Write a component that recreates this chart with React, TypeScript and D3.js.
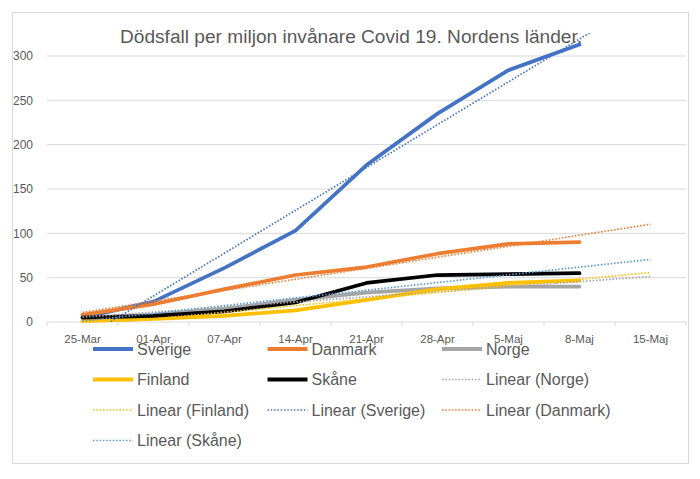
import * as d3 from "d3";

const width = 700;
const height = 479;

const dates = ["25-Mar", "01-Apr", "07-Apr", "14-Apr", "21-Apr", "28-Apr", "5-Maj", "8-Maj", "15-Maj"];
const yTicks = [0, 50, 100, 150, 200, 250, 300];

// deaths per million, one value per date up to 8-Maj
const sverige = [5, 23, 61, 103, 177, 235, 284, 313];
const danmark = [8, 20, 37, 53, 62, 77, 88, 90];
const norge = [5, 8, 15, 25, 33, 38, 40, 40];
const finland = [1, 3.5, 7, 13, 25, 37, 44, 47];
const skane = [5, 7, 12, 22, 44, 53, 54, 55];

const series = [
  { name: "Sverige", values: sverige, color: "#4472C4", trend: "#4472C4" },
  { name: "Danmark", values: danmark, color: "#ED7D31", trend: "#ED7D31" },
  { name: "Norge", values: norge, color: "#A5A5A5", trend: "#A5A5A5" },
  { name: "Finland", values: finland, color: "#FFC000", trend: "#FFC000" },
  { name: "Skåne", values: skane, color: "#000000", trend: "#5B9BD5" },
];
const trendOrder = ["Norge", "Finland", "Sverige", "Danmark", "Skåne"];

const textColor = "#595959";
const gridColor = "#D9D9D9";
const font = "'Liberation Sans', Arial, sans-serif";

const plot = { left: 47, right: 686, top: 33, bottom: 322 };

const x = d3.scaleBand<string>().domain(dates).range([plot.left, plot.right]);
const y = d3.scaleLinear().domain([0, 300]).range([plot.bottom, 56]);
const cx = (i: number) => x(dates[i])! + x.bandwidth() / 2;

// least squares fit, projected one period forward
function linearTrend(values: number[]): [number, number][] {
  const n = values.length;
  const mx = d3.mean(d3.range(n))!;
  const my = d3.mean(values)!;
  const sxy = d3.sum(values, (v, i) => (i - mx) * (v - my));
  const sxx = d3.sum(d3.range(n), (i) => (i - mx) ** 2);
  const slope = sxy / sxx;
  return [0, n].map((i) => [cx(i), y(my + slope * (i - mx))] as [number, number]);
}

const line = d3.line<number>().x((_, i) => cx(i)).y((d) => y(d));

const legendItems = [
  ...series.map((s) => ({ label: s.name, color: s.color, dotted: false })),
  ...trendOrder.map((n) => {
    const s = series.find((d) => d.name === n)!;
    return { label: `Linear (${n})`, color: s.trend, dotted: true };
  }),
];

export default function App() {
  return (
    <svg
      width={width}
      height={height}
      style={{ position: "absolute", left: 0, top: 0, background: "#fff" }}
      fontFamily={font}
    >
      <defs>
        <clipPath id="plot-clip">
          <rect x={plot.left} y={plot.top} width={plot.right - plot.left} height={plot.bottom - plot.top} />
        </clipPath>
      </defs>
      <rect x={12.5} y={12.5} width={676} height={451} fill="#fff" stroke={gridColor} />

      {yTicks.map((t) => (
        <g key={t}>
          <line x1={plot.left} x2={plot.right} y1={y(t)} y2={y(t)} stroke={gridColor} />
          <text x={33} y={y(t)} dy="0.35em" textAnchor="end" fontSize={12} fill={textColor}>
            {t}
          </text>
        </g>
      ))}

      {d3.range(dates.length + 1).map((i) => {
        const px = plot.left + i * x.bandwidth();
        return <line key={i} x1={px} x2={px} y1={plot.bottom} y2={plot.bottom + 4} stroke={gridColor} />;
      })}
      {dates.map((d, i) => (
        <text key={d} x={cx(i)} y={343} textAnchor="middle" fontSize={11.5} fill={textColor}>
          {d}
        </text>
      ))}

      <text x={351} y={43} textAnchor="middle" fontSize={18} fill={textColor} textLength={462} lengthAdjust="spacingAndGlyphs">
        Dödsfall per miljon invånare Covid 19. Nordens länder.
      </text>

      <g fill="none" strokeLinejoin="round" strokeLinecap="round">
        {series.map((s) => (
          <path key={s.name} d={line(s.values)!} stroke={s.color} strokeWidth={3.75} />
        ))}
      </g>
      <g clipPath="url(#plot-clip)" fill="none">
        {trendOrder.map((n) => {
          const s = series.find((d) => d.name === n)!;
          const pts = linearTrend(s.values);
          return (
            <line
              key={n}
              x1={pts[0][0]}
              y1={pts[0][1]}
              x2={pts[1][0]}
              y2={pts[1][1]}
              stroke={s.trend}
              strokeWidth={1.75}
              strokeDasharray="1.5 1.8"
            />
          );
        })}
      </g>

      {legendItems.map((item, i) => {
        const lx = 93 + (i % 3) * 174.5;
        const ly = 349 + Math.floor(i / 3) * 30.5;
        return (
          <g key={item.label}>
            <line
              x1={lx}
              x2={lx + 40}
              y1={ly}
              y2={ly}
              stroke={item.color}
              strokeWidth={item.dotted ? 1.5 : 4}
              strokeDasharray={item.dotted ? "1.5 1.8" : undefined}
            />
            <text x={lx + 44} y={ly} dy="0.36em" fontSize={16} fill={textColor}>
              {item.label}
            </text>
          </g>
        );
      })}
    </svg>
  );
}
